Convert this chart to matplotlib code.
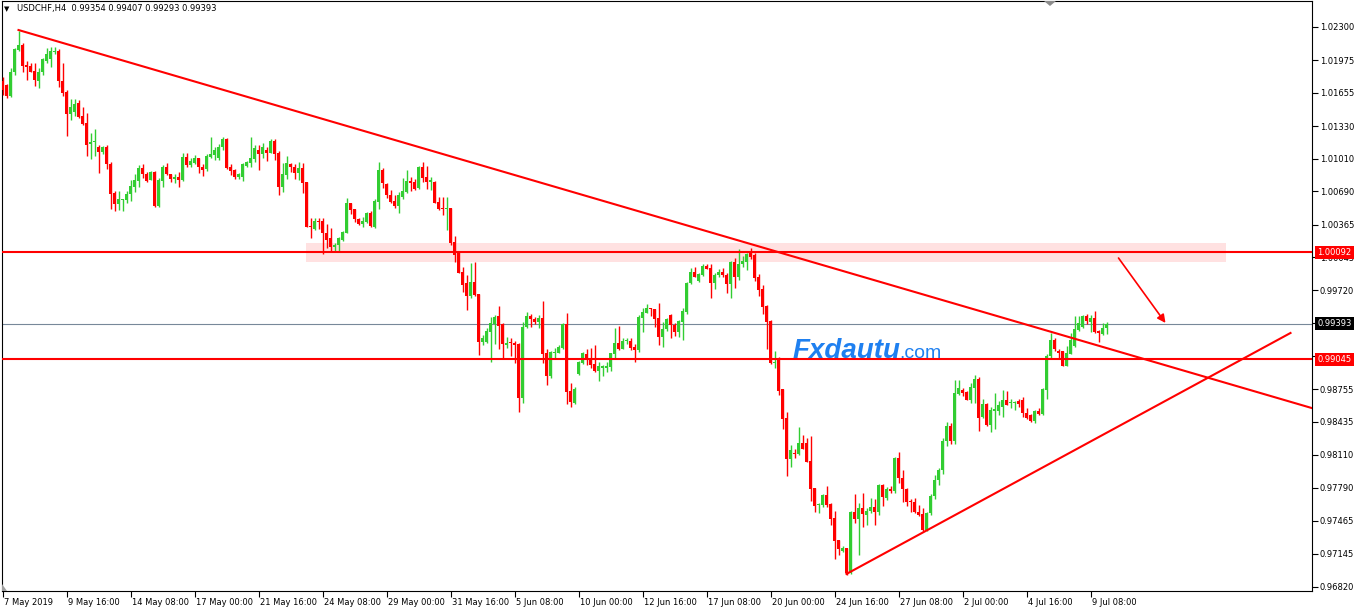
import numpy as np
import matplotlib
matplotlib.use("Agg")
import matplotlib.pyplot as plt
from matplotlib.patches import Polygon
from matplotlib.transforms import blended_transform_factory, ScaledTranslation

# USDCHF H4 candles (7 May - 9 Jul 2019), price * 10000
open_pips = [
    10177, 10173, 10162, 10186, 10207, 10212, 10193, 10192, 10187, 10177,
    10186, 10197, 10199, 10205, 10206, 10177, 10166, 10145, 10147, 10156,
    10143, 10136, 10115, 10117, 10112, 10108, 10112, 10096, 10067, 10057,
    10061, 10061, 10066, 10073, 10079, 10092, 10086, 10080, 10088, 10055,
    10079, 10093, 10086, 10081, 10083, 10080, 10103, 10095, 10097, 10102,
    10093, 10091, 10103, 10105, 10102, 10112, 10120, 10093, 10090, 10083,
    10083, 10094, 10097, 10101, 10110, 10106, 10110, 10107, 10118, 10107,
    10073, 10085, 10096, 10093, 10087, 10092, 10078, 10035, 10032, 10040,
    10040, 10028, 10023, 10015, 10017, 10021, 10028, 10058, 10052, 10042,
    10037, 10039, 10048, 10034, 10059, 10090, 10076, 10065, 10060, 10055,
    10064, 10068, 10079, 10078, 10072, 10093, 10083, 10078, 10078, 10059,
    10053, 10052, 10053, 10019, 10009, 9990, 9979, 9967, 9980, 9969,
    9922, 9922, 9931, 9939, 9947, 9939, 9919, 9922, 9921, 9920,
    9867, 9936, 9947, 9944, 9941, 9945, 9911, 9888, 9911, 9911,
    9916, 9939, 9874, 9862, 9890, 9901, 9910, 9906, 9900, 9893,
    9896, 9896, 9897, 9910, 9921, 9915, 9923, 9923, 9917, 9914,
    9945, 9950, 9955, 9954, 9945, 9926, 9934, 9948, 9938, 9931,
    9941, 9951, 9979, 9990, 9981, 9987, 9996, 9994, 9979, 9987,
    9990, 9987, 9978, 10000, 9985, 9998, 10000, 10009, 10007, 9985,
    9973, 9957, 9942, 9901, 9906, 9876, 9847, 9807, 9813, 9812,
    9823, 9823, 9805, 9779, 9762, 9762, 9772, 9763, 9749, 9728,
    9717, 9720, 9695, 9755, 9748, 9759, 9752, 9756, 9760, 9755,
    9782, 9769, 9778, 9776, 9808, 9788, 9778, 9766, 9765, 9755,
    9753, 9738, 9754, 9771, 9786, 9796, 9825, 9839, 9825, 9871,
    9875, 9873, 9865, 9877, 9885, 9848, 9861, 9840, 9854, 9854,
    9858, 9865, 9862, 9862, 9864, 9865, 9852, 9850, 9844, 9854,
    9851, 9875, 9908, 9924, 9913, 9913, 9898, 9910, 9918, 9933,
    9936, 9947, 9941, 9945, 9932, 9929, 9935,
]
high_pips = [
    10181, 10174, 10190, 10209, 10226, 10214, 10197, 10195, 10195, 10190,
    10200, 10209, 10210, 10210, 10208, 10195, 10168, 10159, 10159, 10158,
    10152, 10146, 10126, 10130, 10114, 10113, 10114, 10098, 10069, 10069,
    10062, 10069, 10080, 10086, 10095, 10096, 10088, 10089, 10089, 10082,
    10095, 10097, 10086, 10086, 10088, 10107, 10107, 10102, 10105, 10102,
    10096, 10106, 10122, 10112, 10115, 10122, 10121, 10096, 10091, 10087,
    10097, 10099, 10122, 10114, 10114, 10116, 10112, 10120, 10120, 10109,
    10097, 10104, 10097, 10096, 10098, 10097, 10078, 10043, 10043, 10043,
    10043, 10037, 10033, 10018, 10024, 10030, 10063, 10058, 10052, 10043,
    10044, 10049, 10050, 10062, 10098, 10092, 10077, 10070, 10065, 10068,
    10082, 10090, 10083, 10081, 10094, 10098, 10094, 10083, 10079, 10064,
    10064, 10064, 10053, 10025, 10010, 9995, 9987, 9999, 10000, 9969,
    9928, 9935, 9946, 9948, 9957, 9940, 9926, 9925, 9923, 9921,
    9941, 9951, 9949, 9946, 9948, 9962, 9915, 9913, 9916, 9919,
    9940, 9950, 9881, 9878, 9903, 9912, 9915, 9916, 9919, 9902,
    9899, 9902, 9911, 9935, 9937, 9925, 9925, 9925, 9920, 9948,
    9955, 9959, 9955, 9954, 9960, 9941, 9945, 9949, 9940, 9943,
    9955, 9980, 9994, 9995, 9989, 9998, 9998, 9998, 9989, 9993,
    9994, 9989, 10001, 10004, 10013, 10006, 10009, 10014, 10009, 9988,
    9977, 9958, 9943, 9913, 9907, 9876, 9853, 9821, 9817, 9838,
    9831, 9828, 9830, 9779, 9764, 9773, 9781, 9764, 9756, 9728,
    9722, 9720, 9756, 9773, 9764, 9774, 9759, 9769, 9768, 9783,
    9783, 9780, 9781, 9809, 9814, 9796, 9779, 9768, 9769, 9762,
    9759, 9755, 9773, 9791, 9798, 9828, 9843, 9842, 9884, 9884,
    9877, 9874, 9881, 9889, 9887, 9866, 9862, 9858, 9872, 9864,
    9875, 9874, 9866, 9864, 9866, 9868, 9857, 9851, 9855, 9857,
    9877, 9910, 9930, 9925, 9915, 9913, 9918, 9930, 9947, 9947,
    9948, 9949, 9948, 9952, 9933, 9940, 9941,
]
low_pips = [
    10163, 10160, 10161, 10183, 10206, 10186, 10178, 10186, 10172, 10170,
    10183, 10195, 10191, 10204, 10171, 10162, 10123, 10139, 10143, 10141,
    10134, 10104, 10101, 10104, 10087, 10106, 10091, 10052, 10050, 10051,
    10050, 10058, 10060, 10068, 10073, 10082, 10078, 10080, 10054, 10054,
    10073, 10085, 10078, 10077, 10073, 10079, 10093, 10093, 10096, 10087,
    10084, 10089, 10102, 10100, 10100, 10110, 10091, 10085, 10081, 10081,
    10079, 10093, 10093, 10098, 10090, 10102, 10099, 10107, 10100, 10065,
    10068, 10081, 10088, 10081, 10080, 10067, 10034, 10023, 10031, 10032,
    10008, 10014, 10010, 10010, 10010, 10020, 10028, 10047, 10039, 10036,
    10034, 10038, 10034, 10033, 10052, 10072, 10063, 10058, 10053, 10048,
    10062, 10067, 10069, 10070, 10071, 10078, 10071, 10070, 10058, 10051,
    10046, 10031, 10017, 10000, 9989, 9971, 9953, 9965, 9967, 9909,
    9919, 9921, 9902, 9920, 9915, 9905, 9916, 9908, 9901, 9853,
    9862, 9935, 9936, 9939, 9935, 9901, 9879, 9886, 9906, 9911,
    9915, 9861, 9858, 9861, 9889, 9900, 9899, 9896, 9892, 9883,
    9888, 9892, 9893, 9906, 9914, 9915, 9920, 9914, 9902, 9912,
    9931, 9950, 9947, 9936, 9919, 9917, 9932, 9925, 9927, 9926,
    9924, 9949, 9978, 9985, 9980, 9986, 9993, 9965, 9973, 9985,
    9985, 9970, 9965, 9974, 9982, 9995, 9992, 10003, 9981, 9967,
    9949, 9915, 9900, 9896, 9870, 9836, 9790, 9799, 9808, 9811,
    9817, 9804, 9766, 9755, 9754, 9760, 9760, 9742, 9709, 9713,
    9716, 9693, 9694, 9744, 9713, 9740, 9742, 9754, 9742, 9752,
    9761, 9767, 9774, 9774, 9784, 9765, 9761, 9755, 9754, 9751,
    9737, 9737, 9752, 9768, 9782, 9792, 9820, 9822, 9822, 9870,
    9869, 9865, 9862, 9862, 9834, 9847, 9839, 9833, 9836, 9850,
    9848, 9860, 9857, 9855, 9858, 9848, 9846, 9843, 9842, 9850,
    9850, 9866, 9906, 9913, 9906, 9898, 9898, 9910, 9917, 9932,
    9935, 9939, 9931, 9930, 9922, 9928, 9929,
]
close_pips = [
    10168, 10162, 10186, 10208, 10212, 10192, 10191, 10186, 10178, 10186,
    10199, 10204, 10206, 10206, 10177, 10165, 10145, 10152, 10155, 10142,
    10135, 10114, 10117, 10118, 10108, 10112, 10096, 10066, 10057, 10062,
    10062, 10066, 10074, 10080, 10092, 10086, 10079, 10088, 10055, 10080,
    10093, 10086, 10081, 10083, 10080, 10103, 10095, 10099, 10102, 10093,
    10090, 10104, 10106, 10110, 10112, 10120, 10092, 10089, 10083, 10086,
    10096, 10098, 10102, 10111, 10106, 10112, 10107, 10118, 10106, 10073,
    10086, 10097, 10093, 10087, 10092, 10077, 10034, 10034, 10040, 10039,
    10028, 10021, 10015, 10017, 10023, 10029, 10058, 10051, 10042, 10037,
    10040, 10048, 10035, 10060, 10090, 10077, 10065, 10059, 10055, 10065,
    10069, 10079, 10077, 10071, 10093, 10082, 10078, 10080, 10058, 10052,
    10052, 10053, 10018, 10007, 9989, 9977, 9967, 9980, 9968, 9922,
    9925, 9932, 9940, 9946, 9937, 9920, 9921, 9921, 9919, 9867,
    9936, 9947, 9944, 9941, 9945, 9910, 9888, 9912, 9912, 9917,
    9939, 9873, 9863, 9876, 9902, 9911, 9906, 9899, 9893, 9898,
    9898, 9898, 9911, 9921, 9915, 9923, 9924, 9916, 9914, 9946,
    9951, 9955, 9954, 9944, 9926, 9934, 9944, 9938, 9931, 9942,
    9952, 9979, 9990, 9985, 9988, 9996, 9993, 9979, 9987, 9990,
    9987, 9978, 10000, 9985, 9998, 10001, 10008, 10005, 9984, 9972,
    9956, 9941, 9901, 9902, 9874, 9846, 9807, 9816, 9812, 9823,
    9817, 9804, 9778, 9761, 9763, 9772, 9762, 9748, 9727, 9719,
    9720, 9695, 9755, 9748, 9759, 9753, 9756, 9760, 9755, 9782,
    9770, 9778, 9776, 9808, 9788, 9778, 9765, 9765, 9755, 9752,
    9738, 9754, 9771, 9786, 9796, 9825, 9839, 9825, 9872, 9877,
    9872, 9865, 9878, 9885, 9847, 9861, 9840, 9855, 9856, 9860,
    9865, 9860, 9863, 9863, 9861, 9852, 9847, 9844, 9854, 9851,
    9876, 9908, 9924, 9915, 9911, 9898, 9911, 9924, 9934, 9940,
    9947, 9942, 9945, 9931, 9930, 9935, 9939,
]

time_labels = ["7 May 2019", "9 May 16:00", "14 May 08:00", "17 May 00:00",
               "21 May 16:00", "24 May 08:00", "29 May 00:00", "31 May 16:00",
               "5 Jun 08:00", "10 Jun 00:00", "12 Jun 16:00", "17 Jun 08:00",
               "20 Jun 00:00", "24 Jun 16:00", "27 Jun 08:00", "2 Jul 00:00",
               "4 Jul 16:00", "9 Jul 08:00"]
bars_per_label = 16

price_ticks = [1.02300, 1.01975, 1.01655, 1.01330, 1.01010, 1.00690, 1.00365,
               1.00045, 0.99720, 0.99400, 0.99075, 0.98755, 0.98435, 0.98110,
               0.97790, 0.97465, 0.97145, 0.96820]

header = "USDCHF,H4  0.99354 0.99407 0.99293 0.99393"
resistance = 1.00092
support = 0.99045
bid = 0.99393
zone_prices = (1.00000, 1.00185)
zone_bars = (75.75, 305.75)
down_line = ([4, 340], [1.02270, 0.98424])
up_line = ([211, 322], [0.96945, 0.99304])
arrow_start = (279, 1.00038)
arrow_end = (290.75, 0.99402)

BULL = "#32CD32"
BEAR = "#FF0000"
BLUE = "#1f80f0"

o = np.array(open_pips) / 1e4
h = np.array(high_pips) / 1e4
l = np.array(low_pips) / 1e4
c = np.array(close_pips) / 1e4
x = np.arange(len(o))
cols = np.where(c >= o, BULL, BEAR)

W, H = 1354, 607
fig = plt.figure(figsize=(W / 100, H / 100), dpi=100)
ax = fig.add_axes([1.5 / W, 16 / H, 1310 / W, 590 / H])
ax.set_xlim(-0.25, 327.25)
ax.set_ylim(0.96778, 1.02554)

# zone + levels
ax.axhspan(zone_prices[0], zone_prices[1], xmin=(zone_bars[0] + 0.25) / 327.5,
           xmax=(zone_bars[1] + 0.25) / 327.5, color="#FFE1E1", lw=0, zorder=1)
ax.axhline(bid, color="#778899", lw=0.8, zorder=2)
ax.axhline(resistance, color="red", lw=1.5, zorder=4)
ax.axhline(support, color="red", lw=1.5, zorder=4)

# candles
ax.vlines(x, l, h, colors=cols, lw=1.0, zorder=3)
body = np.maximum(np.abs(c - o), 0.00009)
ax.bar(x, body, width=0.75, bottom=np.minimum(o, c), color=cols, lw=0, zorder=3)

# trend lines and arrow
ax.plot(down_line[0], down_line[1], color="red", lw=1.5, zorder=4)
ax.plot(up_line[0], up_line[1], color="red", lw=1.5, zorder=4)
ax.annotate("", xy=arrow_end, xytext=arrow_start,
            arrowprops=dict(arrowstyle="-|>", color="red", lw=1.2,
                            mutation_scale=12, shrinkA=0, shrinkB=0), zorder=5)

# watermark
ax.text(197.5, 0.99059, "Fxdautu", fontsize=20, fontweight="bold",
        style="italic", family="Liberation Sans", color=BLUE,
        va="baseline", zorder=2)
ax.text(224.2, 0.99059, ".com", fontsize=14, family="Liberation Sans",
        color=BLUE, va="baseline", zorder=2)

# axes styling
for s in ax.spines.values():
    s.set_linewidth(0.8)
    s.set_color("black")
ax.yaxis.tick_right()
ax.set_yticks(price_ticks)
ax.set_yticklabels([f"{p:.5f}" for p in price_ticks])
ax.tick_params(axis="y", length=4, width=0.8, labelsize=6, pad=2)
pos = np.arange(len(time_labels)) * bars_per_label
ax.set_xticks(pos)
ax.set_xticklabels(time_labels)
ax.tick_params(axis="x", length=4, width=0.8, labelsize=6, pad=1)
shift = ScaledTranslation(1 / 100, 0, fig.dpi_scale_trans)
for lbl in ax.get_xticklabels():
    lbl.set_ha("left")
    lbl.set_transform(lbl.get_transform() + shift)

# price labels on the right
tr = blended_transform_factory(ax.transAxes, ax.transData)
for val, bg in [(resistance, "red"), (bid, "black"), (support, "red")]:
    ax.text(1.0045, val, f"{val:.5f}", transform=tr, fontsize=6, color="white",
            ha="left", va="center", clip_on=False, zorder=6,
            bbox=dict(boxstyle="square,pad=0.25", fc=bg, ec="none"))

# header and small chart markers
fig.text(17 / W, 1 - 9 / H, header, fontsize=6, va="center", ha="left")
fig.text(4 / W, 1 - 9 / H, "\u25bc", fontsize=5, va="center", ha="left")
fig.patches.append(Polygon([[1044, H - 1], [1056, H - 1], [1050, H - 6]],
                           closed=True, fc="#8c8c8c", ec="none",
                           transform=None, figure=fig))
fig.patches.append(Polygon([[2, 16], [2, 23], [7, 16]], closed=True,
                           fc="#a0a0a0", ec="none", transform=None, figure=fig))

fig.savefig("out.png", dpi=100, facecolor="white")
